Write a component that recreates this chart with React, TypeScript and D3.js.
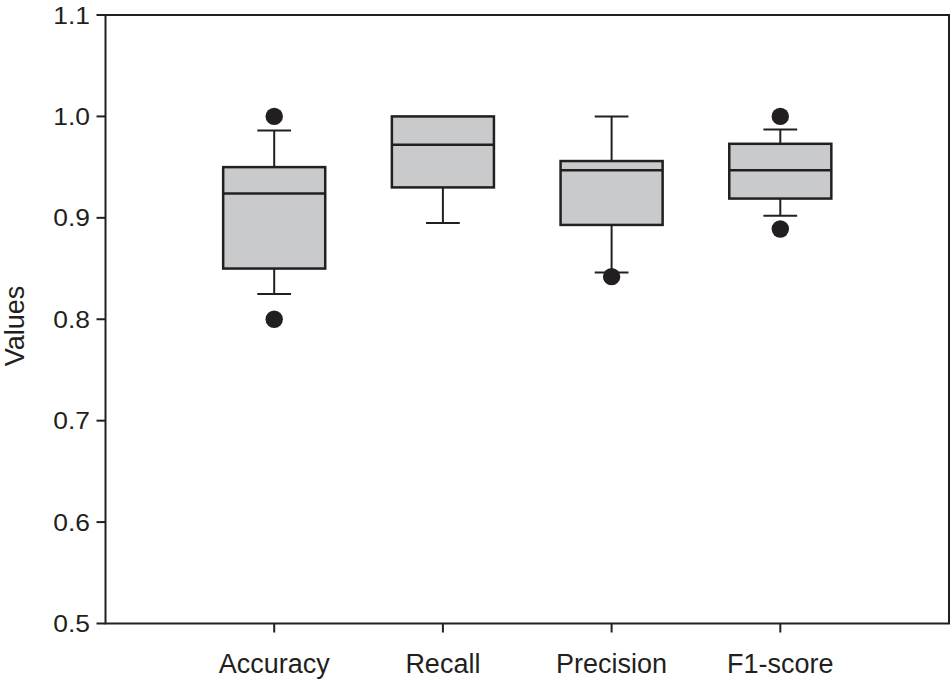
import React from "react";
import * as d3 from "d3";

const categories = ["Accuracy", "Recall", "Precision", "F1-score"];
const q1 = [0.85, 0.930, 0.893, 0.919];
const medians = [0.924, 0.972, 0.947, 0.947];
const q3 = [0.95, 1.0, 0.956, 0.973];
const whiskerLow = [0.825, 0.895, 0.846, 0.902];
const whiskerHigh = [0.986, 1.0, 1.0, 0.987];
const outliers: number[][] = [[0.8, 1.0], [], [0.842], [0.889, 1.0]];
const yTicks = [0.5, 0.6, 0.7, 0.8, 0.9, 1.0, 1.1];

const W = 951;
const H = 679;
const left = 105.5;
const right = 949;
const top = 15;
const bottom = 623.5;
const ink = "#231f20";
const font = "'Liberation Sans', Arial, Helvetica, sans-serif";

export default function App() {
  const y = d3.scaleLinear().domain([0.5, 1.1]).range([bottom, top]);
  const x = d3.scaleLinear().domain([0, categories.length + 1]).range([left, right]);
  const band = x(1) - x(0);
  const boxW = band * 0.605;
  const capW = band * 0.2;

  return (
    <svg width={W} height={H} style={{ position: "absolute", left: 0, top: 0, background: "#fff" }}>
      <rect x={left} y={top} width={right - left} height={bottom - top} fill="none" stroke={ink} strokeWidth={2} />
      {yTicks.map((t) => (
        <g key={t}>
          <line x1={left - 9} x2={left} y1={y(t)} y2={y(t)} stroke={ink} strokeWidth={2} />
          <text
            x={90}
            y={y(t)}
            dy="0.36em"
            textAnchor="end"
            fontFamily={font}
            fontSize={24}
            fill={ink}
            transform={`translate(${90 * (1 - 1.1)},0) scale(1.1,1)`}
          >
            {t.toFixed(1)}
          </text>
        </g>
      ))}
      {categories.map((c, i) => {
        const cx = x(i + 1);
        return (
          <g key={c}>
            <line x1={cx} x2={cx} y1={bottom} y2={bottom + 9} stroke={ink} strokeWidth={2} />
            <text x={cx} y={672.5} textAnchor="middle" fontFamily={font} fontSize={27} fill={ink}>
              {c}
            </text>
            {whiskerHigh[i] > q3[i] && (
              <>
                <line x1={cx} x2={cx} y1={y(q3[i])} y2={y(whiskerHigh[i])} stroke={ink} strokeWidth={2} />
                <line x1={cx - capW / 2} x2={cx + capW / 2} y1={y(whiskerHigh[i])} y2={y(whiskerHigh[i])} stroke={ink} strokeWidth={2} />
              </>
            )}
            {whiskerLow[i] < q1[i] && (
              <>
                <line x1={cx} x2={cx} y1={y(q1[i])} y2={y(whiskerLow[i])} stroke={ink} strokeWidth={2} />
                <line x1={cx - capW / 2} x2={cx + capW / 2} y1={y(whiskerLow[i])} y2={y(whiskerLow[i])} stroke={ink} strokeWidth={2} />
              </>
            )}
            <rect
              x={cx - boxW / 2}
              y={y(q3[i])}
              width={boxW}
              height={y(q1[i]) - y(q3[i])}
              fill="#c9cacc"
              stroke={ink}
              strokeWidth={2.5}
            />
            <line x1={cx - boxW / 2} x2={cx + boxW / 2} y1={y(medians[i])} y2={y(medians[i])} stroke={ink} strokeWidth={2.5} />
            {outliers[i].map((o, k) => (
              <circle key={k} cx={cx} cy={y(o)} r={8.7} fill={ink} />
            ))}
          </g>
        );
      })}
      <text
        transform={`translate(24,${326}) rotate(-90)`}
        textAnchor="middle"
        fontFamily={font}
        fontSize={27}
        fill={ink}
      >
        Values
      </text>
    </svg>
  );
}
